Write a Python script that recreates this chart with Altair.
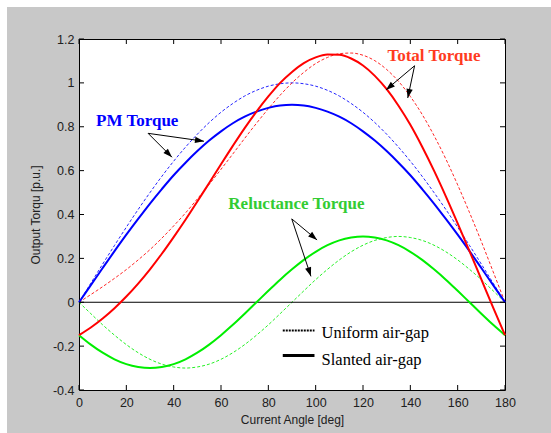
import math
import altair as alt
import pandas as pd

# ---------------- data ----------------
angles = list(range(0, 181, 5))

pm_uniform = [0.0, 0.087, 0.174, 0.259, 0.342, 0.423, 0.5, 0.574, 0.643, 0.707, 0.766, 0.819,
              0.866, 0.906, 0.94, 0.966, 0.985, 0.996, 1.0, 0.996, 0.985, 0.966, 0.94, 0.906,
              0.866, 0.819, 0.766, 0.707, 0.643, 0.574, 0.5, 0.423, 0.342, 0.259, 0.174, 0.087, 0.0]
pm_slanted = [0.0, 0.078, 0.156, 0.233, 0.308, 0.38, 0.45, 0.516, 0.579, 0.636, 0.689, 0.737,
              0.779, 0.816, 0.846, 0.869, 0.886, 0.897, 0.9, 0.897, 0.886, 0.869, 0.846, 0.816,
              0.779, 0.737, 0.689, 0.636, 0.579, 0.516, 0.45, 0.38, 0.308, 0.233, 0.156, 0.078, 0.0]
rel_uniform = [0.0, -0.052, -0.103, -0.15, -0.193, -0.23, -0.26, -0.282, -0.295, -0.3, -0.295,
               -0.282, -0.26, -0.23, -0.193, -0.15, -0.103, -0.052, 0.0, 0.052, 0.103, 0.15,
               0.193, 0.23, 0.26, 0.282, 0.295, 0.3, 0.295, 0.282, 0.26, 0.23, 0.193, 0.15,
               0.103, 0.052, 0.0]
rel_slanted = [-0.15, -0.193, -0.23, -0.26, -0.282, -0.295, -0.3, -0.295, -0.282, -0.26, -0.23,
               -0.193, -0.15, -0.103, -0.052, 0.0, 0.052, 0.103, 0.15, 0.193, 0.23, 0.26, 0.282,
               0.295, 0.3, 0.295, 0.282, 0.26, 0.23, 0.193, 0.15, 0.103, 0.052, 0.0, -0.052,
               -0.103, -0.15]
total_uniform = [0.0, 0.035, 0.071, 0.109, 0.149, 0.193, 0.24, 0.292, 0.348, 0.407, 0.471, 0.537,
                 0.606, 0.676, 0.747, 0.816, 0.882, 0.944, 1.0, 1.048, 1.088, 1.116, 1.133, 1.136,
                 1.126, 1.101, 1.061, 1.007, 0.938, 0.856, 0.76, 0.653, 0.535, 0.409, 0.277,
                 0.139, 0.0]
total_slanted = [-0.15, -0.115, -0.074, -0.027, 0.026, 0.085, 0.15, 0.221, 0.297, 0.376, 0.459,
                 0.544, 0.629, 0.713, 0.794, 0.869, 0.938, 1.0, 1.05, 1.09, 1.116, 1.129, 1.128,
                 1.111, 1.079, 1.032, 0.971, 0.896, 0.809, 0.709, 0.6, 0.483, 0.36, 0.233, 0.104,
                 -0.025, -0.15]

x_ticks = [0, 20, 40, 60, 80, 100, 120, 140, 160, 180]
y_ticks = [-0.4, -0.2, 0, 0.2, 0.4, 0.6, 0.8, 1.0, 1.2]

# annotations (data coordinates)
label_text = ["PM Torque", "Total Torque", "Reluctance Torque"]
label_x = [7.2, 130.3, 63.1]
label_y = [0.826, 1.121, 0.45]
label_color = ["#0000ff", "#ff3b1f", "#33cc33"]

arrow_x = [29.2, 29.2, 141.8, 141.8, 89.9, 89.9]
arrow_y = [0.77, 0.77, 1.078, 1.078, 0.38, 0.38]
arrow_x2 = [39.3, 52.8, 129.7, 138.9, 100.6, 98.0]
arrow_y2 = [0.661, 0.734, 0.968, 0.931, 0.284, 0.118]

legend_text = ["Uniform air-gap", "Slanted air-gap"]
legend_x = [86.1, 99.5]
legend_line_y = [-0.129, -0.243]
legend_text_x = 102.5
legend_text_y = [-0.141, -0.263]

# ---------------- chart ----------------
W, H = 426, 351
XD = [0, 180]
YD = [-0.4, 1.2]
xs = alt.Scale(domain=XD, nice=False, zero=False)
ys = alt.Scale(domain=YD, nice=False, zero=False)

names = ["pm", "rel", "total"]
colors = ["#0000ff", "#00ee00", "#ff0000"]
uni = {"pm": pm_uniform, "rel": rel_uniform, "total": total_uniform}
sla = {"pm": pm_slanted, "rel": rel_slanted, "total": total_slanted}

def frame(d):
    rows = []
    for n in names:
        for a, v in zip(angles, d[n]):
            rows.append({"angle": a, "value": v, "series": n})
    return pd.DataFrame(rows)

col = alt.Color("series:N", scale=alt.Scale(domain=names, range=colors), legend=None)

axis_common = dict(domain=False, ticks=False, grid=False, labelFlush=False,
                   labelFont="Liberation Sans", labelFontSize=12.5, labelColor="#202020",
                   titleFont="Liberation Sans", titleFontSize=12, titleFontWeight="normal",
                   titleColor="#202020")

base = alt.Chart(frame(uni)).mark_line(strokeWidth=1, strokeDash=[3, 2], interpolate="monotone",
                                        opacity=0.85).encode(
    x=alt.X("angle:Q", scale=xs,
            axis=alt.Axis(values=x_ticks, title="Current Angle [deg]", labelPadding=6,
                          titlePadding=6, **axis_common)),
    y=alt.Y("value:Q", scale=ys,
            axis=alt.Axis(values=y_ticks, title="Output Torqu [p.u.]", labelPadding=5,
                          titlePadding=10,
                          labelExpr="(datum.value < 0 ? '-' : '') + format(abs(datum.value), '.1~f')",
                          **axis_common)),
    color=col,
)

solid = alt.Chart(frame(sla)).mark_line(strokeWidth=2, interpolate="monotone").encode(
    x=alt.X("angle:Q", scale=xs), y=alt.Y("value:Q", scale=ys), color=col)

zero = alt.Chart(pd.DataFrame({"z": [0]})).mark_rule(color="black", strokeWidth=1).encode(
    y=alt.Y("z:Q", scale=ys))

xt = pd.DataFrame({"t": x_ticks})
yt = pd.DataFrame({"t": y_ticks})
tick_b = alt.Chart(xt).mark_rule(color="black").encode(
    x=alt.X("t:Q", scale=xs), y=alt.value(H), y2=alt.value(H - 5))
tick_t = alt.Chart(xt).mark_rule(color="black").encode(
    x=alt.X("t:Q", scale=xs), y=alt.value(0), y2=alt.value(5))
tick_l = alt.Chart(yt).mark_rule(color="black").encode(
    y=alt.Y("t:Q", scale=ys), x=alt.value(0), x2=alt.value(5))
tick_r = alt.Chart(yt).mark_rule(color="black").encode(
    y=alt.Y("t:Q", scale=ys), x=alt.value(W), x2=alt.value(W - 5))

labels = alt.Chart(pd.DataFrame({"text": label_text, "x": label_x, "y": label_y,
                                 "c": label_color})).mark_text(
    font="Liberation Serif", fontWeight="bold", fontSize=17, align="left", baseline="middle").encode(
    x=alt.X("x:Q", scale=xs), y=alt.Y("y:Q", scale=ys), text="text:N",
    color=alt.Color("c:N", scale=None))

px_per_x = W / (XD[1] - XD[0])
px_per_y = H / (YD[1] - YD[0])
angs = []
for x1, y1, x2, y2 in zip(arrow_x, arrow_y, arrow_x2, arrow_y2):
    dx = (x2 - x1) * px_per_x
    dy = -(y2 - y1) * px_per_y
    angs.append(math.degrees(math.atan2(dx, -dy)) % 360)
adf = pd.DataFrame({"x": arrow_x, "y": arrow_y, "x2": arrow_x2, "y2": arrow_y2, "ang": angs})
arrow_lines = alt.Chart(adf).mark_rule(color="black", strokeWidth=1).encode(
    x=alt.X("x:Q", scale=xs), y=alt.Y("y:Q", scale=ys), x2="x2:Q", y2="y2:Q")
arrow_heads = alt.Chart(adf).mark_point(
    shape="M0,0L-0.7,2L0.7,2Z", filled=True, color="black", opacity=1, size=81).encode(
    x=alt.X("x2:Q", scale=xs), y=alt.Y("y2:Q", scale=ys), angle=alt.Angle("ang:Q", scale=None))

ldf = pd.DataFrame({"x": [legend_x[0]] * 2, "x2": [legend_x[1]] * 2, "y": legend_line_y,
                    "kind": ["u", "s"]})
leg_dot = alt.Chart(ldf.iloc[[0]]).mark_rule(color="black", strokeWidth=2, strokeDash=[2, 1]).encode(
    x=alt.X("x:Q", scale=xs), x2="x2:Q", y=alt.Y("y:Q", scale=ys))
leg_sol = alt.Chart(ldf.iloc[[1]]).mark_rule(color="black", strokeWidth=3).encode(
    x=alt.X("x:Q", scale=xs), x2="x2:Q", y=alt.Y("y:Q", scale=ys))
leg_txt = alt.Chart(pd.DataFrame({"text": legend_text, "x": [legend_text_x] * 2,
                                  "y": legend_text_y})).mark_text(
    font="Liberation Serif", fontSize=16.5, align="left", baseline="middle", color="black").encode(
    x=alt.X("x:Q", scale=xs), y=alt.Y("y:Q", scale=ys), text="text:N")

one = pd.DataFrame({"a": [0]})
strip_l = alt.Chart(one).mark_rect(color="white").encode(
    x=alt.value(-79), x2=alt.value(-72), y=alt.value(-39), y2=alt.value(H + 43))
strip_t = alt.Chart(one).mark_rect(color="white").encode(
    x=alt.value(-79), x2=alt.value(W + 46), y=alt.value(-39), y2=alt.value(-32))

chart = alt.layer(
    base, zero, solid, tick_b, tick_t, tick_l, tick_r, arrow_lines, arrow_heads, labels,
    leg_dot, leg_sol, leg_txt, strip_l, strip_t
).properties(
    width=W, height=H,
    padding={"left": 79, "top": 39, "right": 46, "bottom": 43},
    autosize=alt.AutoSizeParams(type="none"),
    background="#c8c8c8",
).configure_view(stroke="black", strokeWidth=1, fill="white")

chart.save("out.html", embed_options={"renderer": "svg", "actions": False})
